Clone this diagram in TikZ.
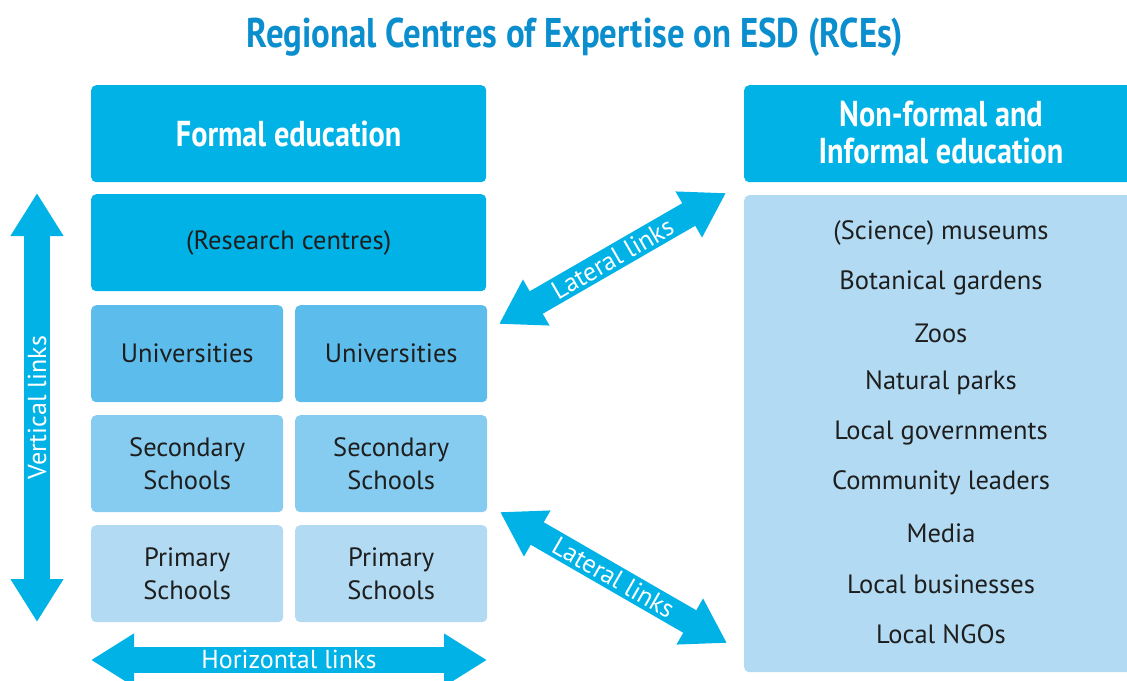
\documentclass[tikz,border=0pt]{standalone}
\usepackage{fontspec}
\setmainfont{PT Sans}
\newfontfamily\condfont[FakeStretch=0.84]{PT Sans}
\usetikzlibrary{arrows.meta}
\definecolor{cyanA}{RGB}{0,178,230}
\definecolor{cyanB}{RGB}{92,189,236}
\definecolor{cyanC}{RGB}{134,204,240}
\definecolor{cyanD}{RGB}{178,219,243}
\definecolor{titleblue}{RGB}{10,142,206}
\definecolor{ink}{RGB}{30,30,30}
\tikzset{
  box/.style={rounded corners=5pt, anchor=north west, inner sep=0pt, align=center, text=ink, font=\fontsize{26.5}{33}\selectfont},
  head/.style={box, fill=cyanA, text=white, font=\condfont\bfseries\fontsize{36}{38}\selectfont},
  fatarrow/.style={draw=cyanA, line width=26pt, {Triangle[width=50pt,length=43pt]}-{Triangle[width=50pt,length=43pt]}},
  linklabel/.style={text=white, font=\fontsize{26}{28}\selectfont, inner sep=0pt},
  item/.style={text=ink, font=\fontsize{26.5}{30}\selectfont}
}
\begin{document}
\begin{tikzpicture}[x=1pt,y=-1pt]
\useasboundingbox (0,0) rectangle (1127,680);
\clip (0,0) rectangle (1127,680);
% title
\node[text=titleblue, font=\condfont\bfseries\fontsize{41.5}{44}\selectfont] (title) at (575,37) {Regional Centres of Expertise on ESD (RCEs)};
% formal side
\node[head, minimum width=395, minimum height=97] (formal) at (91,85) {Formal education};
\node[box, fill=cyanA, minimum width=395, minimum height=97] (research) at (91,194) {(Research centres)};
\node[box, fill=cyanB, minimum width=192, minimum height=97] (uni1) at (91,305) {Universities};
\node[box, fill=cyanB, minimum width=192, minimum height=97] (uni2) at (295,305) {Universities};
\node[box, fill=cyanC, minimum width=192, minimum height=97] (sec1) at (91,415) {Secondary\\Schools};
\node[box, fill=cyanC, minimum width=192, minimum height=97] (sec2) at (295,415) {Secondary\\Schools};
\node[box, fill=cyanD, minimum width=192, minimum height=97] (pri1) at (91,525) {Primary\\Schools};
\node[box, fill=cyanD, minimum width=192, minimum height=97] (pri2) at (295,525) {Primary\\Schools};
% non-formal side
\node[box, fill=cyanA, minimum width=400, minimum height=97] (nonformal) at (744,85) {};
\node[text=white, align=center, inner sep=0pt, font=\condfont\bfseries\fontsize{36}{37}\selectfont] (nftext) at (941,133) {Non-formal and\\Informal education};
\node[box, fill=cyanD, minimum width=400, minimum height=477] (listbox) at (744,195) {};
\node[item] (i1) at (941,233) {(Science) museums};
\node[item] (i2) at (941,283) {Botanical gardens};
\node[item] (i3) at (941,333) {Zoos};
\node[item] (i4) at (941,383) {Natural parks};
\node[item] (i5) at (941,433) {Local governments};
\node[item] (i6) at (941,483) {Community leaders};
\node[item] (i7) at (941,533) {Media};
\node[item] (i8) at (941,584) {Local businesses};
\node[item] (i9) at (941,634) {Local NGOs};
% arrow end points
\coordinate (vtop) at (37,193);
\coordinate (vbot) at (37,622);
\coordinate (hl) at (91,660);
\coordinate (hr) at (487,660);
\coordinate (l1a) at (499,324);
\coordinate (l1b) at (726,193);
\coordinate (l2a) at (500,512);
\coordinate (l2b) at (727,643);
% arrows
\draw[fatarrow] (vtop) -- (vbot) node[midway, sloped, linklabel, rotate=180] (vlab) {Vertical links};
\draw[fatarrow] (hl) -- (hr) node[midway, linklabel, yshift=1pt] (hlab) {Horizontal links};
\draw[fatarrow] (l1a) -- (l1b) node[midway, sloped, linklabel] (lat1) {Lateral links};
\draw[fatarrow] (l2a) -- (l2b) node[midway, sloped, linklabel] (lat2) {Lateral links};
\end{tikzpicture}
\end{document}
